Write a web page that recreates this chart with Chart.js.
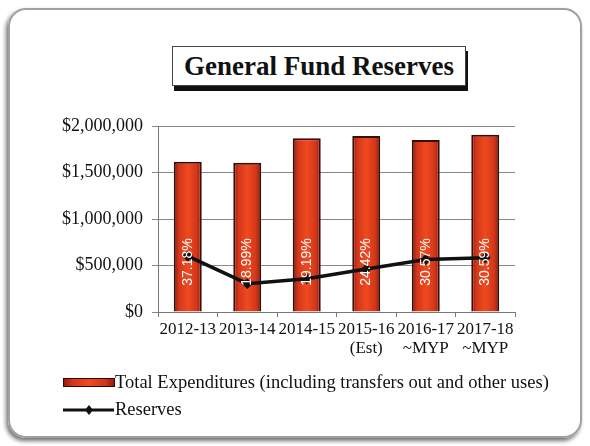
<!DOCTYPE html>
<html>
<head>
<meta charset="utf-8">
<script src="https://cdn.jsdelivr.net/npm/chart.js@4.4.0/dist/chart.umd.min.js"></script>
<style>
  html, body { margin: 0; padding: 0; background: #fff; }
  #frame { position: absolute; left: 8px; top: 8px; width: 570px; height: 426px;
           border: 2px solid #a0a0a0; border-radius: 18px; box-shadow: -2px 3px 4px rgba(0,0,0,0.55); }
  #title { position: absolute; left: 172px; top: 46px; width: 292px; height: 38px;
           border: 1px solid #444; box-shadow: 2px 5px 0 #111; background: #fff;
           font: bold 27px "Liberation Serif", serif; color: #111; text-align: center; line-height: 38px; }
  canvas { position: absolute; left: 0; top: 0; }
</style>
</head>
<body>
<div id="frame"></div>
<div id="title">General Fund Reserves</div>
<canvas id="chart" width="590" height="446"></canvas>

<script>
// data
var years = [['2012-13'], ['2013-14'], ['2014-15'], ['2015-16', '(Est)'], ['2016-17', '~MYP'], ['2017-18', '~MYP']];
var expenditures = [1615000, 1605000, 1867000, 1892000, 1849000, 1907000];
var reserves = [600000, 305000, 358000, 462000, 565000, 583000];
var pctLabels = ['37.18%', '18.99%', '19.19%', '24.42%', '30.57%', '30.59%'];
var legendNames = ['Total Expenditures (including transfers out and other uses)', 'Reserves'];

var BAR_PCT = 0.47;
var SERIF = '"Liberation Serif", serif';

function barGradient(c, x0, x1) {
  var g = c.createLinearGradient(x0, 0, x1, 0);
  g.addColorStop(0, '#8a1a08');
  g.addColorStop(0.18, '#d3361a');
  g.addColorStop(0.5, '#ef4a1f');
  g.addColorStop(0.82, '#d3361a');
  g.addColorStop(1, '#8a1a08');
  return g;
}

function barFill(ctx) {
  var chart = ctx.chart, area = chart.chartArea;
  if (!area || ctx.dataIndex === undefined) return '#d8381a';
  var x = chart.scales.x.getPixelForValue(ctx.dataIndex);
  var w = area.width / years.length * BAR_PCT;
  return barGradient(chart.ctx, x - w / 2, x + w / 2);
}

// white rotated percentages inside the bars
var pctPlugin = {
  id: 'pct',
  afterDatasetsDraw: function(chart) {
    var c = chart.ctx, xs = chart.scales.x, ys = chart.scales.y;
    c.save();
    c.fillStyle = '#fff';
    c.font = '14px "Liberation Sans", Arial, sans-serif';
    c.textAlign = 'center';
    c.textBaseline = 'middle';
    pctLabels.forEach(function(t, i) {
      c.save();
      c.translate(xs.getPixelForValue(i), ys.getPixelForValue(0) - 50);
      c.rotate(-Math.PI / 2);
      c.fillText(t, 0, 0);
      c.restore();
    });
    c.restore();
  }
};

// legend in two rows at the bottom
var legendPlugin = {
  id: 'legend2',
  afterDraw: function(chart) {
    var c = chart.ctx;
    c.save();
    c.font = '18.5px ' + SERIF;
    c.textBaseline = 'middle';
    // row 1: bar swatch
    c.fillStyle = barGradient(c, 63, 115);
    c.fillRect(63, 378, 52, 9);
    c.strokeStyle = '#2a0800';
    c.lineWidth = 1;
    c.strokeRect(63.5, 378.5, 51, 8);
    c.fillStyle = '#111';
    c.fillText(legendNames[0], 115, 383);
    // row 2: line with marker
    c.strokeStyle = '#111';
    c.lineWidth = 3;
    c.beginPath();
    c.moveTo(63, 410);
    c.lineTo(114, 410);
    c.stroke();
    c.beginPath();
    c.moveTo(89, 405); c.lineTo(93, 410); c.lineTo(89, 415); c.lineTo(85, 410);
    c.closePath();
    c.fill();
    c.fillText(legendNames[1], 115, 410);
    c.restore();
  }
};

new Chart(document.getElementById('chart'), {
  type: 'bar',
  data: {
    labels: years,
    datasets: [{
      type: 'line',
      label: legendNames[1],
      data: reserves,
      borderColor: '#111',
      borderWidth: 3.5,
      pointStyle: 'rectRot',
      pointRadius: 3,
      pointBackgroundColor: '#111',
      pointBorderColor: '#111',
      tension: 0,
      order: 0
    }, {
      label: legendNames[0],
      data: expenditures,
      backgroundColor: barFill,
      borderColor: '#3a0c04',
      borderWidth: 2,
      barPercentage: BAR_PCT,
      categoryPercentage: 1,
      order: 1
    }]
  },
  options: {
    responsive: false,
    animation: false,
    layout: { padding: { top: 126, right: 75, bottom: 84, left: 0 } },
    plugins: {
      legend: { display: false },
      tooltip: { enabled: false },
      title: { display: false }
    },
    scales: {
      x: {
        grid: { drawOnChartArea: false, drawTicks: true, tickLength: 5, color: '#777', offset: true },
        border: { color: '#777' },
        ticks: { font: { family: SERIF, size: 17, lineHeight: 1.1 }, color: '#111',
                 maxRotation: 0, autoSkip: false, padding: 3 },
        afterFit: function(s) { s.height = 50; }
      },
      y: {
        min: 0,
        max: 2000000,
        grid: { color: '#888', tickLength: 6 },
        border: { color: '#777' },
        ticks: {
          stepSize: 500000,
          font: { family: SERIF, size: 18 },
          color: '#111',
          padding: 9,
          callback: function(v) { return '$' + v.toLocaleString('en-US'); }
        },
        afterFit: function(s) { s.width = 158; }
      }
    }
  },
  plugins: [pctPlugin, legendPlugin]
});
</script>
</body>
</html>
